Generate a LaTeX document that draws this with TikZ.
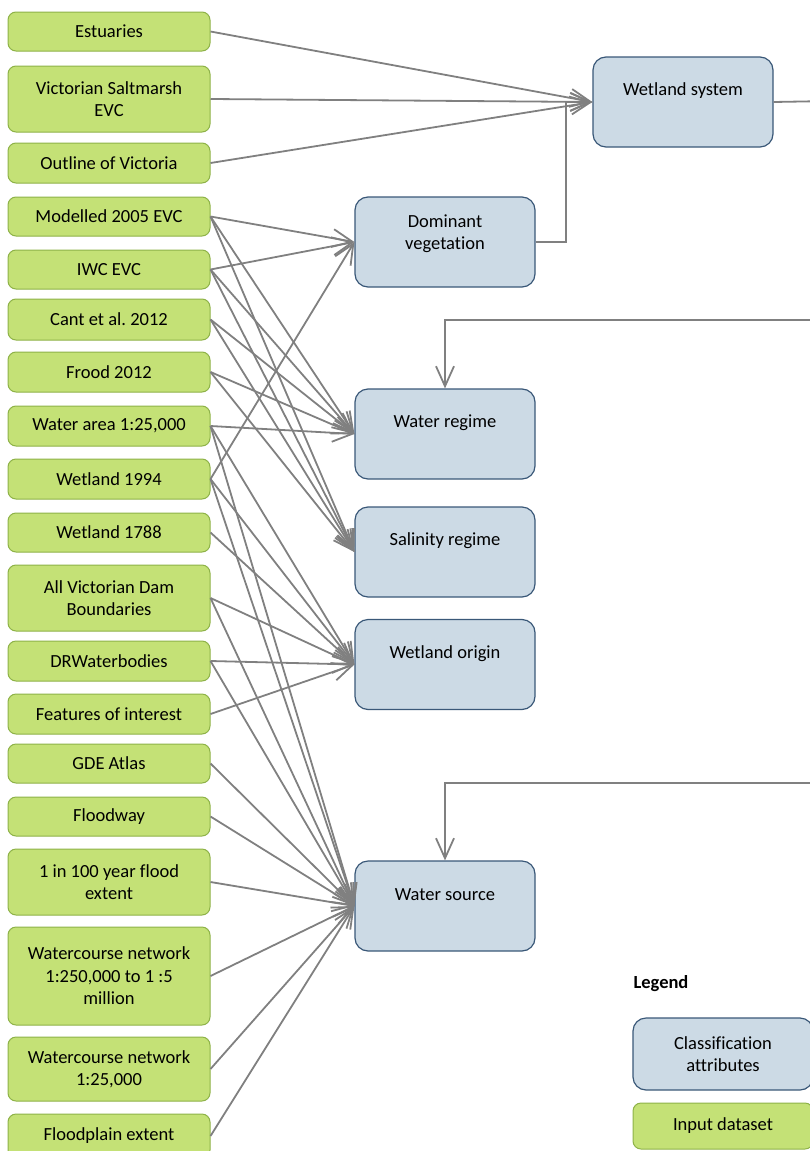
\documentclass[tikz,border=0pt]{standalone}
\usepackage{fontspec}
\setmainfont{Carlito}[Ligatures=NoCommon]
\usetikzlibrary{arrows.meta}
\definecolor{datafill}{RGB}{196,225,118}
\definecolor{dataline}{RGB}{142,178,72}
\definecolor{attrfill}{RGB}{204,218,229}
\definecolor{attrline}{RGB}{58,88,120}
\definecolor{linkgray}{RGB}{128,128,128}
\frenchspacing
\newcommand{\boxfont}{\fontsize{18.5}{22.5}\selectfont}
\tikzstyle{dataset} = [rounded corners=8pt, draw=dataline, fill=datafill, line width=1pt, minimum width=202pt, inner sep=0pt, align=center, font=\boxfont]
\tikzstyle{attrib} = [rounded corners=13pt, draw=attrline, fill=attrfill, line width=1.2pt, minimum width=180pt, minimum height=90pt, inner sep=0pt, align=center, font=\boxfont]
\tikzstyle{attrtext} = [anchor=center, align=center, font=\boxfont, yshift=-34.5pt]
\tikzstyle{link} = [draw=linkgray, line width=1.8pt]
\tikzstyle{feed} = [link, -{Straight Barb[length=20pt,width=18pt]}]

\begin{document}
\begin{tikzpicture}[x=1pt,y=-1pt]
	\useasboundingbox (0,0) rectangle (809,1151);
	% input datasets
	\node[dataset, minimum height=39pt] (est) at (109,31.5) {Estuaries};
	\node[dataset, minimum height=66pt] (salt) at (109,99) {Victorian Saltmarsh\\EVC};
	\node[dataset, minimum height=40pt] (outl) at (109,163) {Outline of Victoria};
	\node[dataset, minimum height=39pt] (mod) at (109,216.5) {Modelled 2005 EVC};
	\node[dataset, minimum height=39pt] (iwc) at (109,269.5) {IWC EVC};
	\node[dataset, minimum height=41pt] (cant) at (109,319.5) {Cant et al. 2012};
	\node[dataset, minimum height=40pt] (frood) at (109,372) {Frood 2012};
	\node[dataset, minimum height=40pt] (warea) at (109,426) {Water area 1:25,000};
	\node[dataset, minimum height=40pt] (w94) at (109,479) {Wetland 1994};
	\node[dataset, minimum height=39pt] (w88) at (109,532.5) {Wetland 1788};
	\node[dataset, minimum height=66pt] (dam) at (109,598) {All Victorian Dam\\Boundaries};
	\node[dataset, minimum height=40pt] (drw) at (109,661) {DRWaterbodies};
	\node[dataset, minimum height=40pt] (foi) at (109,714) {Features of interest};
	\node[dataset, minimum height=39pt] (gde) at (109,763.5) {GDE Atlas};
	\node[dataset, minimum height=39pt] (fway) at (109,816.5) {Floodway};
	\node[dataset, minimum height=66pt] (f100) at (109,882) {1 in 100 year flood\\extent};
	\node[dataset, minimum height=98pt] (wcs) at (109,976) {Watercourse network\\1:250,000 to 1 :5\\million};
	\node[dataset, minimum height=64pt] (wcl) at (109,1069) {Watercourse network\\1:25,000};
	\node[dataset, minimum height=44pt] (fpl) at (109,1136) {Floodplain extent};
	% classification attributes
	\node[attrib, label={[attrtext]north:Wetland system}] (wsys) at (683,102) {};
	\node[attrib, label={[attrtext,yshift=-3pt]north:Dominant\\vegetation}] (dveg) at (445,242) {};
	\node[attrib, label={[attrtext]north:Water regime}] (wreg) at (445,434) {};
	\node[attrib, label={[attrtext]north:Salinity regime}] (sreg) at (445,552) {};
	\node[attrib, label={[attrtext]north:Wetland origin}] (worig) at (445,664.5) {};
	\node[attrib, label={[attrtext]north:Water source}] (wsrc) at (445,906) {};
	% legend
	\node[anchor=west, font=\boxfont\bfseries] (legend) at (630,984) {Legend};
	\node[attrib, minimum height=72pt] (keyattr) at (723,1054) {Classification\\attributes};
	\node[dataset, minimum width=180pt, minimum height=46pt] (keydata) at (723,1126) {Input dataset};
	% links leaving the page
	\coordinate (offsys) at (830,101);
	\coordinate (offreg) at (830,320);
	\coordinate (offsrc) at (830,783);
	\draw[link] (wsys.east) -- (offsys);
	\draw[feed] (offreg) -| (wreg.north);
	\draw[feed] (offsrc) -| (wsrc.north);
	% links
	\foreach \s in {est,salt,outl}
	\draw[feed] (\s.east) -- (wsys.west);
	\draw[feed] (dveg.east) -- ++(30,0) |- (wsys.west);
	\foreach \s in {mod,iwc,w94}
	\draw[feed] (\s.east) -- (dveg.west);
	\foreach \s in {mod,iwc,cant,frood,warea}
	\draw[feed] (\s.east) -- (wreg.west);
	\foreach \s in {mod,iwc,cant,frood}
	\draw[feed] (\s.east) -- (sreg.west);
	\foreach \s in {warea,w94,w88,dam,drw,foi}
	\draw[feed] (\s.east) -- (worig.west);
	\foreach \s in {warea,w94,dam,drw,gde,fway,f100,wcs,wcl,fpl}
	\draw[feed] (\s.east) -- (wsrc.west);
\end{tikzpicture}
\end{document}
